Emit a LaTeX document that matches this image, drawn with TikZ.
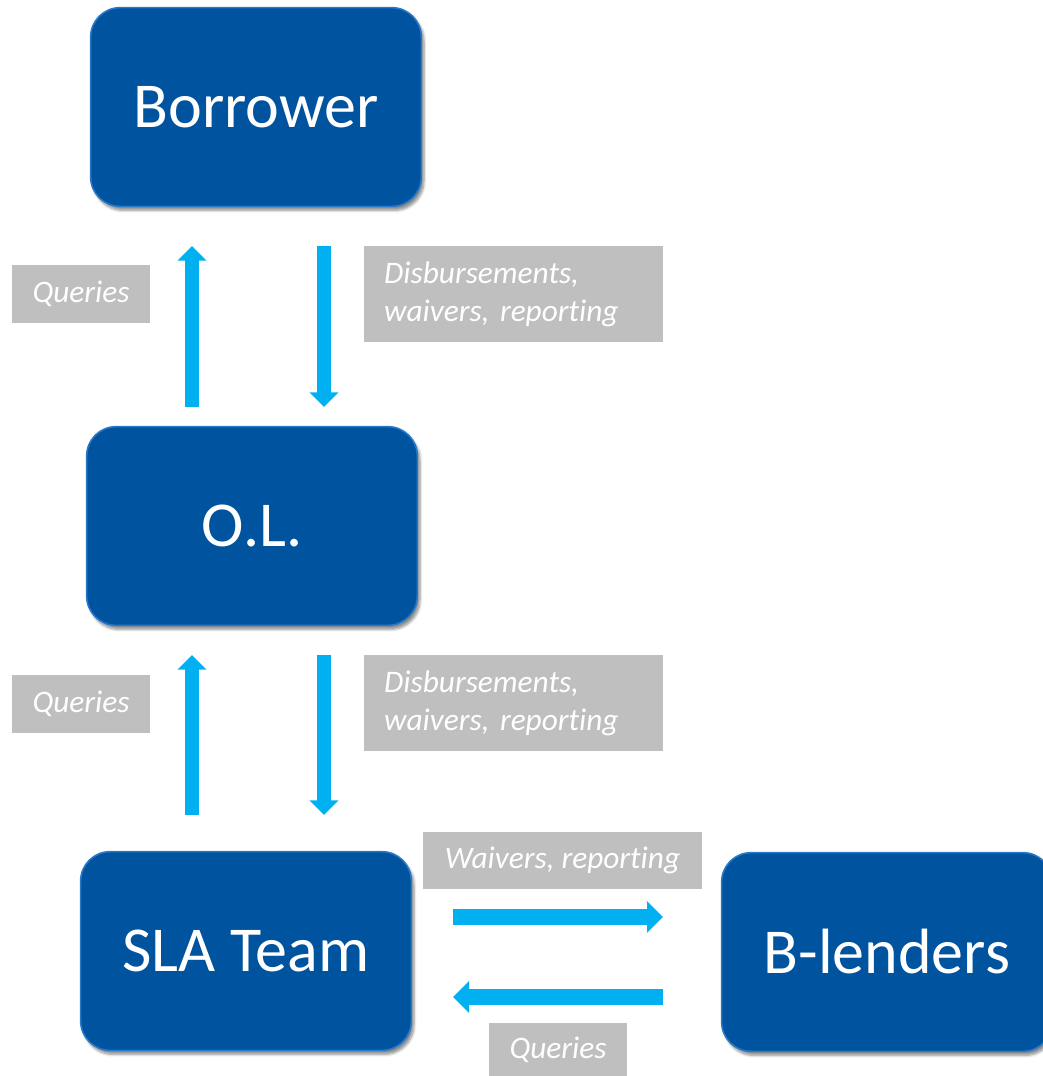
\documentclass[tikz,border=0pt]{standalone}
\usepackage{fontspec}
\setmainfont[Ligatures=NoCommon]{Carlito}
\frenchspacing
\usetikzlibrary{arrows.meta,shadows.blur,calc}
\definecolor{boxblue}{RGB}{0,83,158}
\definecolor{boxedge}{RGB}{40,120,200}
\definecolor{flowcyan}{RGB}{0,176,240}
\definecolor{tagray}{RGB}{191,191,191}
\begin{document}
\begin{tikzpicture}[x=0.75pt,y=-0.75pt,
  entity/.style={rectangle,rounded corners=22pt,fill=boxblue,draw=boxedge,line width=1.2pt,
    minimum width=248pt,minimum height=149pt,text=white,font=\fontsize{48}{52}\selectfont,
    blur shadow={shadow xshift=2pt,shadow yshift=-3pt,shadow opacity=45,shadow blur steps=6}},
  tag/.style={fill=tagray,text=white,inner sep=0pt,font=\fontsize{23.5}{28.5}\selectfont\itshape},
  vflow/.style={draw=flowcyan,line width=10.5pt,-{Triangle[width=21pt,length=11pt]}},
  hflow/.style={draw=flowcyan,line width=12pt,-{Triangle[width=23pt,length=12pt]}}]
\useasboundingbox (0,0) rectangle (1043,1076);
\begin{scope}
\clip (0,0) rectangle (1043,1076);
\node[entity] (bor) at (256,107) {Borrower};
\node[entity] (ol) at (252,526) {O.L.};
\node[entity] (sla) at (246,951) {SLA Team};
\node[entity] (bl) at (887,952) {B-lenders};
\end{scope}
% tags
\node[tag,minimum width=103.5pt,minimum height=43.5pt] (q1) at (81,294) {\raisebox{-2pt}{Queries}};
\node[tag,minimum width=224pt,minimum height=72pt,text width=194pt,align=left,inner xsep=15pt] (d1) at (513.5,294) {Disbursements,\\waivers, reporting};
\node[tag,minimum width=103.5pt,minimum height=43.5pt] (q2) at (81,703.5) {\raisebox{-2pt}{Queries}};
\node[tag,minimum width=224pt,minimum height=72pt,text width=194pt,align=left,inner xsep=15pt] (d2) at (513.5,703) {Disbursements,\\waivers, reporting};
\node[tag,minimum width=209pt,minimum height=43pt] (w) at (562.5,860.5) {\raisebox{-2pt}{Waivers, reporting}};
\node[tag,minimum width=103.5pt,minimum height=40pt] (q3) at (558,1049.5) {\raisebox{-2pt}{Queries}};
% flows
\coordinate (u1s) at (192,407); \coordinate (u1e) at (192,246);
\coordinate (d1s) at (324,246); \coordinate (d1e) at (324,407);
\coordinate (u2s) at (192,815); \coordinate (u2e) at (192,655);
\coordinate (d2s) at (324,655); \coordinate (d2e) at (324,815);
\coordinate (rs) at (453,917); \coordinate (re) at (663,917);
\coordinate (ls) at (663,997); \coordinate (le) at (453,997);
\draw[vflow] (u1s) -- (u1e);
\draw[vflow] (d1s) -- (d1e);
\draw[vflow] (u2s) -- (u2e);
\draw[vflow] (d2s) -- (d2e);
\draw[hflow] (rs) -- (re);
\draw[hflow] (ls) -- (le);
\end{tikzpicture}
\end{document}
